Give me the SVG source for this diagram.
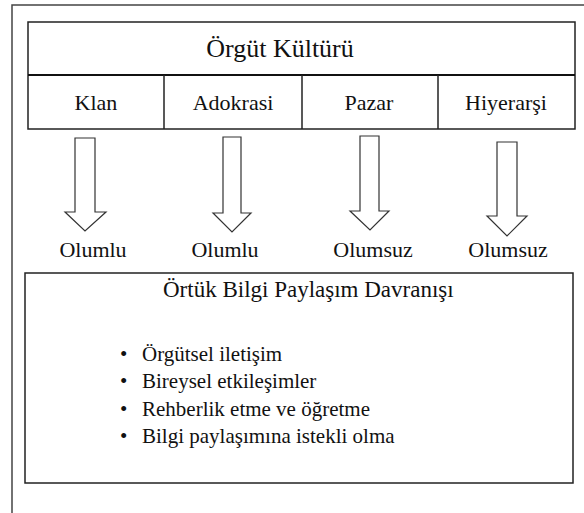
<svg xmlns="http://www.w3.org/2000/svg" width="584" height="513" viewBox="0 0 584 513" font-family="'Liberation Serif', 'Times New Roman', 'DejaVu Serif', serif">
  <style>
    .frame { fill: none; stroke: #444; stroke-width: 1.5; }
    .box { fill: #fff; stroke: #222; stroke-width: 1.5; }
    .arrow { fill: #fff; stroke: #333; stroke-width: 1.2; stroke-linejoin: miter; }
    text { font-family: 'Liberation Serif', 'Times New Roman', 'DejaVu Serif', serif; fill: #111; }
    .lbl { font-size: 22px; text-anchor: middle; }
    .title { font-size: 26px; text-anchor: middle; }
    .item { font-size: 21px; }
  </style>

  <!-- outer frame (open on the right and bottom) -->
  <path class="frame" d="M12 513 V5 H584"/>

  <!-- culture table -->
  <g id="culture">
    <rect class="box" x="28" y="22" width="547" height="107"/>
    <line x1="28" y1="75" x2="575" y2="75" stroke="#111" stroke-width="2"/>
    <text class="title" x="280" y="57">Örgüt Kültürü</text>
  </g>
  <g id="klan">
    <text class="lbl" x="96" y="110">Klan</text>
  </g>
  <g id="adokrasi">
    <line x1="164" y1="75" x2="164" y2="129" stroke="#222" stroke-width="1.5"/>
    <text class="lbl" x="233" y="110">Adokrasi</text>
  </g>
  <g id="pazar">
    <line x1="302" y1="75" x2="302" y2="129" stroke="#222" stroke-width="1.5"/>
    <text class="lbl" x="369" y="110">Pazar</text>
  </g>
  <g id="hiyerarsi">
    <line x1="438" y1="75" x2="438" y2="129" stroke="#222" stroke-width="1.5"/>
    <text class="lbl" x="506" y="110">Hiyerarşi</text>
  </g>

  <!-- block arrows with their effect labels -->
  <g id="connectors">
    <path class="arrow" d="M75 138 H95 V212 H106 L85 231 L65 212 H75 Z"/>
    <path class="arrow" d="M223 137 H241 V213 H251 L232 232 L213 213 H223 Z"/>
    <path class="arrow" d="M360 136 H379 V211 H389 L370 230 L350 211 H360 Z"/>
    <path class="arrow" d="M497 142 H517 V216 H527 L507 236 L487 216 H497 Z"/>
    <text class="lbl" x="93" y="257">Olumlu</text>
    <text class="lbl" x="225" y="257">Olumlu</text>
    <text class="lbl" x="373" y="257">Olumsuz</text>
    <text class="lbl" x="508" y="257">Olumsuz</text>
  </g>

  <!-- tacit knowledge sharing behaviour -->
  <g id="behaviour">
    <rect class="box" x="25" y="273" width="548" height="210"/>
    <text x="163" y="297" font-size="23">Örtük Bilgi Paylaşım Davranışı</text>
    <g class="item">
      <text x="120" y="361">•</text><text x="142" y="361">Örgütsel iletişim</text>
      <text x="120" y="388">•</text><text x="142" y="388">Bireysel etkileşimler</text>
      <text x="120" y="416">•</text><text x="142" y="416">Rehberlik etme ve öğretme</text>
      <text x="120" y="443">•</text><text x="142" y="443">Bilgi paylaşımına istekli olma</text>
    </g>
  </g>
</svg>
